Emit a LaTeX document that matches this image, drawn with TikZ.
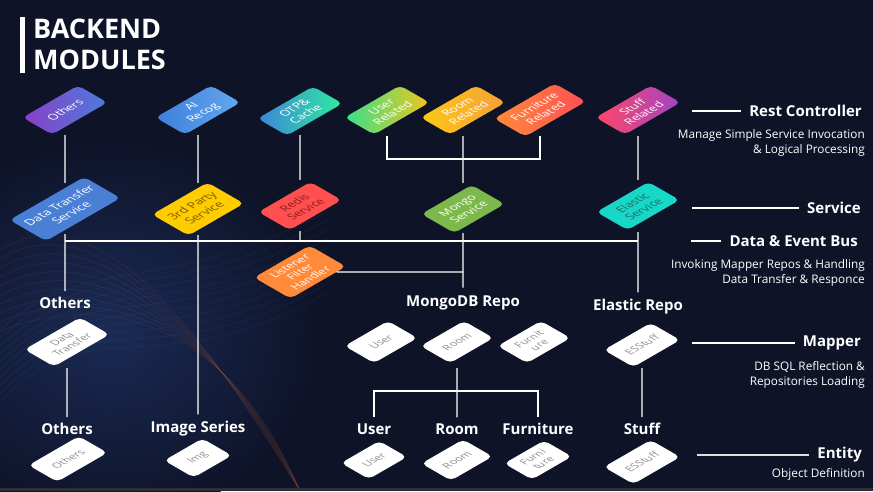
\documentclass[tikz,border=0pt]{standalone}
\usepackage{fontspec}
\setmainfont{Open Sans}
\usetikzlibrary{calc}
\definecolor{bg}{HTML}{0E1328}
\definecolor{glow}{HTML}{1B2B55}
\definecolor{wOrange}{HTML}{C8643C}
\definecolor{wTeal}{HTML}{2A7F9E}
\definecolor{othA}{HTML}{8A3FC8}
\definecolor{othB}{HTML}{4D7BDA}
\definecolor{aiA}{HTML}{3F7FDC}
\definecolor{aiB}{HTML}{62A8EC}
\definecolor{otpA}{HTML}{3C86D8}
\definecolor{otpB}{HTML}{2FEAA0}
\definecolor{usrA}{HTML}{38E08E}
\definecolor{usrB}{HTML}{EFC51C}
\definecolor{roomA}{HTML}{FFC812}
\definecolor{roomB}{HTML}{F2A03A}
\definecolor{furA}{HTML}{FF8A3A}
\definecolor{furB}{HTML}{FF4F55}
\definecolor{stA}{HTML}{FF4766}
\definecolor{stB}{HTML}{A244C4}
\definecolor{dtFill}{HTML}{4A7FD6}
\definecolor{tpFill}{HTML}{FFCC00}
\definecolor{tpText}{HTML}{7A5C00}
\definecolor{rdFill}{HTML}{FF4F4F}
\definecolor{rdText}{HTML}{8C1C24}
\definecolor{mgFill}{HTML}{7CB84A}
\definecolor{esFill}{HTML}{17D8C6}
\definecolor{esText}{HTML}{1F6A66}
\definecolor{lfFill}{HTML}{FF8A3A}
\definecolor{wtText}{HTML}{8E8E8E}
\definecolor{strip}{HTML}{2E2F33}
\begin{document}
\begin{tikzpicture}[x=1pt,y=-1pt,
  iso/.style={cm={0.866,0.5,-0.866,0.5,(0,0)}},
  tile/.style={iso, rounded corners=5pt, inner sep=0pt, align=center,
    font=\fontsize{11.5}{13}\selectfont, text=white},
  sz/.style 2 args={minimum width=#1pt, minimum height=#2pt},
  wtile/.style={tile, fill=white, text=wtText, font=\fontsize{10.5}{12}\selectfont},
  lbl/.style={text=white, font=\fontsize{15}{18}\selectfont\bfseries, inner sep=2pt},
  desc/.style={text=white, font=\fontsize{11.8}{15}\selectfont, align=right, inner sep=0pt},
  conn/.style={draw=white, line width=1.3pt},
  bus/.style={draw=white, line width=2.6pt},
  sep/.style={draw=white, line width=1.2pt}
]
\useasboundingbox (0,0) rectangle (873,491);
% background
\fill[bg] (0,0) rectangle (873,491);
\shade[inner color=glow, outer color=bg] (110,330) ellipse (210 and 190);
\foreach \i in {0,...,9}{
  \draw[wOrange, opacity=0.16, line width=0.5pt]
    (0,250+\i*9) .. controls (110,180+\i*12) and (230,380-\i*6) .. (300,491);
  \draw[wTeal, opacity=0.16, line width=0.5pt]
    (0,330+\i*8) .. controls (90,250+\i*6) and (160,300+\i*10) .. (330,210+\i*9);
}
\fill[strip] (0,488) rectangle (873,491);

% title
\fill[white] (20,17) rectangle (24.5,73);
\node[anchor=west, text=white, font=\fontsize{27}{31}\selectfont\bfseries, align=left, inner sep=0pt] (title) at (33,44) {BACKEND\\MODULES};

% Rest controller tiles
\node[tile, sz={64}{34}, left color=othA, right color=othB] (rcOthers) at (65,110) {Others};
\node[tile, sz={64}{34}, left color=aiA, right color=aiB] (rcAI) at (198,110) {AI\\Recog};
\node[tile, sz={64}{34}, left color=otpA, right color=otpB] (rcOTP) at (300,111) {OTP\&\\Cache};
\node[tile, sz={64}{34}, left color=usrA, right color=usrB] (rcUser) at (387,110) {User\\Related};
\node[tile, sz={64}{34}, left color=roomA, right color=roomB] (rcRoom) at (463,110) {Room\\Related};
\node[tile, sz={70}{36}, left color=furA, right color=furB] (rcFurn) at (540,110) {Furniture\\Related};
\node[tile, sz={64}{34}, left color=stA, right color=stB] (rcStuff) at (638,110) {Stuff\\Related};

% Service tiles
\node[tile, sz={86}{42}, fill=dtFill, font=\fontsize{12}{14}\selectfont] (svDT) at (65,209) {Data Transfer\\Service};
\node[tile, sz={64}{42}, fill=tpFill, text=tpText, font=\fontsize{12}{14}\selectfont] (sv3rd) at (198,209) {3rd Party\\Service};
\node[tile, sz={60}{36}, fill=rdFill, text=rdText] (svRedis) at (300,206) {Redis\\Service};
\node[tile, sz={58}{38}, fill=mgFill] (svMongo) at (463,209) {Mongo\\Service};
\node[tile, sz={60}{36}, fill=esFill, text=esText] (svES) at (638,206) {Elastic\\Service};
\node[tile, sz={64}{42}, fill=lfFill, font=\fontsize{11}{12}\selectfont] (lfh) at (300,272) {Listener\\Filter\\Handler};

% Mapper labels & tiles
\node[lbl] (lOth1) at (65,303) {Others};
\node[lbl] (lMongo) at (463,303) {MongoDB Repo};
\node[lbl] (lES) at (638,307) {Elastic Repo};
\node[wtile, sz={64}{34}] (mpDT) at (67,342) {Data\\Transfer};
\node[wtile, sz={50}{34}] (mpUser) at (381,342) {User};
\node[wtile, sz={50}{34}] (mpRoom) at (457,342) {Room};
\node[wtile, sz={50}{34}] (mpFurn) at (534,342) {Furnit\\ure};
\node[wtile, sz={54}{34}] (mpES) at (642,345) {ESStuff};

% Entity labels & tiles
\node[lbl] (lOth2) at (67,429) {Others};
\node[lbl] (lImg) at (198,429) {Image Series};
\node[lbl] (lUser) at (374,429) {User};
\node[lbl] (lRoom) at (457,429) {Room};
\node[lbl] (lFurn) at (538,429) {Furniture};
\node[lbl] (lStuff) at (642,429) {Stuff};
\node[wtile, sz={58}{33}] (enOth) at (68,459) {Others};
\node[wtile, sz={44}{34}] (enImg) at (198,458) {Img};
\node[wtile, sz={44}{32}] (enUser) at (374,460) {User};
\node[wtile, sz={48}{34}] (enRoom) at (457,460) {Room};
\node[wtile, sz={46}{32}] (enFurn) at (538,460) {Furni\\ture};
\node[wtile, sz={54}{34}] (enES) at (642,462) {ESStuff};

% coordinates
\coordinate (busL) at (65,241);
\coordinate (busR) at (638,241);
\coordinate (busRedis) at (300,241);
\coordinate (mJ) at (463,159);
\coordinate (lfJ) at (463,272);
\coordinate (rJ) at (457,391);

% connectors
\draw[conn, shorten <=8pt, shorten >=5pt] (rcOthers) -- (svDT);
\draw[conn, shorten <=8pt, shorten >=5pt] (rcAI) -- (sv3rd);
\draw[conn, shorten <=7pt, shorten >=8pt] (rcOTP) -- (svRedis);
\draw[conn, shorten <=9pt, shorten >=8pt] (rcUser) |- (mJ) -| (rcFurn);
\draw[conn, shorten <=9pt, shorten >=7pt] (rcRoom) -- (svMongo);
\draw[conn, shorten <=9pt, shorten >=8pt] (rcStuff) -- (svES);
\draw[bus] (busL) -- (busR);
\draw[conn, shorten <=4pt, shorten >=4pt] (svDT) -- (lOth1);
\draw[conn, shorten <=5pt, shorten >=5pt] (sv3rd) -- (lImg);
\draw[conn, shorten <=7pt] (svRedis) -- (busRedis);
\draw[conn, shorten <=5pt, shorten >=6pt] (svMongo) -- (lMongo);
\draw[conn, shorten <=8pt, shorten >=5pt] (svES) -- (lES);
\draw[conn] (lfh) -- (lfJ);
\draw[conn, shorten <=9pt, shorten >=4pt] (mpDT) -- (lOth2);
\draw[conn, shorten <=9pt, shorten >=4pt] (mpRoom) -- (lRoom);
\draw[conn, shorten <=4pt, shorten >=4pt] (lUser) |- (rJ) -| (lFurn);
\draw[conn, shorten <=6pt, shorten >=4pt] (mpES) -- (lStuff);

% right legend
\node[lbl, anchor=east] (hRest) at (864,111) {Rest Controller};
\node[desc, anchor=east] (dRest) at (865,142.5) {Manage Simple Service Invocation\\\& Logical Processing};
\node[lbl, anchor=east] (hServ) at (863,208) {Service};
\node[lbl, anchor=east] (hBus) at (860,241) {Data \& Event Bus};
\node[desc, anchor=east] (dBus) at (865,273) {Invoking Mapper Repos \& Handling\\Data Transfer \& Responce};
\node[lbl, anchor=east] (hMap) at (863,343) {Mapper};
\node[desc, anchor=east] (dMap) at (865,374.5) {DB SQL Reflection \&\\Repositories Loading};
\node[lbl, anchor=east] (hEnt) at (864,455) {Entity};
\node[desc, anchor=east] (dEnt) at (865,474) {Object Definition};
\coordinate (sRest) at (692,111);
\coordinate (sServ) at (692,208);
\coordinate (sBus) at (691,241);
\coordinate (sMap) at (692,343);
\coordinate (sEnt) at (697,455);
\draw[sep, shorten >=6pt] (sRest) -- (hRest);
\draw[sep, shorten >=6pt] (sServ) -- (hServ);
\draw[sep, shorten >=6pt] (sBus) -- (hBus);
\draw[sep, shorten >=6pt] (sMap) -- (hMap);
\draw[sep, draw=white!75!gray, shorten >=6pt] (sEnt) -- (hEnt);
\end{tikzpicture}
\end{document}
